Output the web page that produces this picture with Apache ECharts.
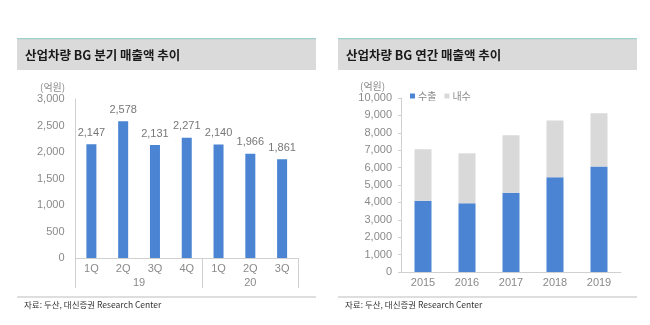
<!DOCTYPE html>
<html>
<head>
<meta charset="utf-8">
<script src="https://cdn.jsdelivr.net/npm/echarts@6/dist/echarts.min.js"></script>
<style>
  html, body { margin: 0; padding: 0; background: #fff; }
  #chart { width: 650px; height: 325px; }
</style>
</head>
<body>
<div id="chart"></div>
<script>
// Quarterly sales (left panel)
const quarterLabels = ['1Q', '2Q', '3Q', '4Q', '1Q', '2Q', '3Q'];
const quarterGroups = [{ name: '19', count: 4 }, { name: '20', count: 3 }];
const quarterSales = [2147, 2578, 2131, 2271, 2140, 1966, 1861];

// Annual sales split into export / domestic (right panel)
const years = ['2015', '2016', '2017', '2018', '2019'];
const exportSales = [4100, 3950, 4560, 5440, 6070];
const domesticSales = [2950, 2870, 3300, 3260, 3050];

const leftTitle = '산업차량 BG 분기 매출액 추이';
const rightTitle = '산업차량 BG 연간 매출액 추이';
const unitLabel = '(억원)';
const sourceText = '자료: 두산, 대신증권 Research Center';

const FONT = '"Liberation Sans", "Noto Sans CJK KR", sans-serif';
const KFONT = '"Noto Sans CJK KR", sans-serif';
const BLUE = '#4a84d2';
const GREY_BAR = '#d9d9d9';
const AXIS = '#d0d0d0';
const LABEL = '#8a8a8a';

// group boundaries and centres for the second category level
const groupEdges = [0];
const groupCentres = {};
quarterGroups.forEach(g => {
  const start = groupEdges[groupEdges.length - 1];
  const end = start + g.count;
  groupCentres[(start + end) / 2] = g.name;
  groupEdges.push(end);
});

const chart = echarts.init(document.getElementById('chart'), null, { renderer: 'canvas' });

function panelHeader(x, w, text) {
  return [
    { type: 'rect', shape: { x: x, y: 39, width: w, height: 31 }, style: { fill: '#dadada' }, silent: true },
    { type: 'rect', shape: { x: x, y: 38, width: w, height: 1.2 }, style: { fill: '#9fd0ca' }, silent: true },
    { type: 'text', x: x + 8, y: 55, style: { text: text, font: 'bold 12.5px ' + KFONT, fill: '#1a1a1a', textVerticalAlign: 'middle' }, silent: true }
  ];
}
function panelFooter(x, w) {
  return [
    { type: 'rect', shape: { x: x, y: 296.5, width: w, height: 1 }, style: { fill: '#bdbdbd' }, silent: true },
    { type: 'text', x: x + 7, y: 305, style: { text: sourceText, font: '8.5px ' + KFONT, fill: '#333', textVerticalAlign: 'middle' }, silent: true }
  ];
}

const option = {
  backgroundColor: '#fff',
  animation: false,
  graphic: [].concat(
    panelHeader(17, 299, leftTitle),
    panelHeader(338, 299, rightTitle),
    panelFooter(17, 299),
    panelFooter(338, 299),
    [
      { type: 'text', x: 40, y: 87, style: { text: unitLabel, font: '10px ' + KFONT, fill: LABEL, textVerticalAlign: 'middle' }, silent: true },
      { type: 'text', x: 360, y: 86, style: { text: unitLabel, font: '10px ' + KFONT, fill: LABEL, textVerticalAlign: 'middle' }, silent: true }
    ]
  ),
  legend: {
    left: 405, top: 86,
    itemWidth: 5, itemHeight: 5, itemGap: 8,
    icon: 'rect',
    textStyle: { fontFamily: KFONT, fontSize: 10, color: LABEL, padding: [0, 0, 0, -2] },
    data: ['수출', '내수']
  },
  grid: [
    { left: 75.5, right: 352, top: 99, bottom: 67 },
    { left: 401, right: 29, top: 98, bottom: 53 }
  ],
  xAxis: [
    {
      type: 'category', gridIndex: 0, data: quarterLabels,
      axisLine: { lineStyle: { color: AXIS } },
      axisTick: { length: 15, interval: 0, lineStyle: { color: AXIS } },
      axisLabel: { color: LABEL, fontSize: 11, fontFamily: FONT, margin: 5, interval: 0 }
    },
    {
      type: 'value', gridIndex: 0, position: 'bottom', min: 0, max: quarterLabels.length,
      axisLine: { show: false },
      splitLine: { show: false },
      axisTick: { show: true, length: 30, customValues: groupEdges, lineStyle: { color: AXIS } },
      axisLabel: {
        color: LABEL, fontSize: 11, fontFamily: FONT, margin: 19,
        customValues: Object.keys(groupCentres).map(Number),
        formatter: v => groupCentres[v] || ''
      }
    },
    {
      type: 'category', gridIndex: 1, data: years,
      axisLine: { lineStyle: { color: AXIS } },
      axisTick: { length: 3, lineStyle: { color: AXIS } },
      axisLabel: { color: LABEL, fontSize: 11, fontFamily: FONT, margin: 5 }
    }
  ],
  yAxis: [
    {
      type: 'value', gridIndex: 0, min: 0, max: 3000, interval: 500,
      axisLine: { show: true, lineStyle: { color: AXIS } },
      axisTick: { show: false },
      splitLine: { show: false },
      axisLabel: { color: LABEL, fontSize: 11, fontFamily: FONT, margin: 11, formatter: v => v.toLocaleString('en-US') }
    },
    {
      type: 'value', gridIndex: 1, min: 0, max: 10000, interval: 1000,
      axisLine: { show: true, lineStyle: { color: AXIS } },
      axisTick: { show: true, length: 3, lineStyle: { color: AXIS } },
      splitLine: { show: false },
      axisLabel: { color: LABEL, fontSize: 11, fontFamily: FONT, margin: 9, formatter: v => v.toLocaleString('en-US') }
    }
  ],
  series: [
    {
      type: 'bar', xAxisIndex: 0, yAxisIndex: 0, data: quarterSales,
      barWidth: 10, itemStyle: { color: BLUE },
      label: {
        show: true, position: 'top', distance: 6, color: '#777', fontSize: 11, fontFamily: FONT,
        formatter: p => p.value.toLocaleString('en-US')
      }
    },
    {
      name: '수출', type: 'bar', xAxisIndex: 2, yAxisIndex: 1, stack: 'annual', data: exportSales,
      barWidth: 17, itemStyle: { color: BLUE }
    },
    {
      name: '내수', type: 'bar', xAxisIndex: 2, yAxisIndex: 1, stack: 'annual', data: domesticSales,
      barWidth: 17, itemStyle: { color: GREY_BAR }
    }
  ]
};

chart.setOption(option);
</script>
</body>
</html>
